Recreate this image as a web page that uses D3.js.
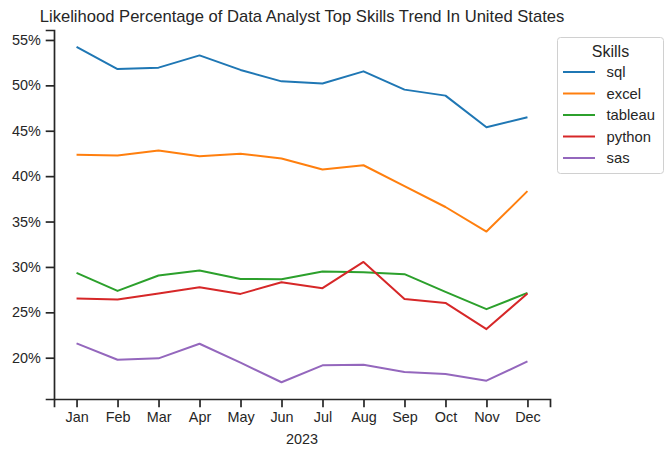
<!DOCTYPE html>
<html lang="en">
<head>
<meta charset="utf-8">
<title>Data Analyst Top Skills Trend</title>
<script src="https://cdn.jsdelivr.net/npm/d3@7"></script>
<style>
body { margin: 0; background: #fff; }
text { font-family: "Liberation Sans", Arial, sans-serif; fill: #262626; }
</style>
</head>
<body>
<script>
// data (percent of postings)
var months = ["Jan", "Feb", "Mar", "Apr", "May", "Jun", "Jul", "Aug", "Sep", "Oct", "Nov", "Dec"];
var skills = ["sql", "excel", "tableau", "python", "sas"];
var sql     = [54.25, 51.8, 51.95, 53.3, 51.7, 50.44, 50.2, 51.54, 49.53, 48.87, 45.38, 46.48];
var excel   = [42.35, 42.28, 42.82, 42.2, 42.46, 41.95, 40.74, 41.2, 38.9, 36.6, 33.9, 38.35];
var tableau = [29.34, 27.36, 29.05, 29.6, 28.68, 28.65, 29.49, 29.42, 29.2, 27.25, 25.35, 27.14];
var python  = [26.53, 26.42, 27.07, 27.77, 27.03, 28.32, 27.66, 30.55, 26.48, 26.04, 23.15, 27.07];
var sas     = [21.58, 19.78, 19.93, 21.54, 19.45, 17.3, 19.16, 19.23, 18.43, 18.21, 17.47, 19.6];
var yTicks = [20, 25, 30, 35, 40, 45, 50, 55];

var series = [sql, excel, tableau, python, sas];
var colors = ["#1f77b4", "#ff7f0e", "#2ca02c", "#d62728", "#9467bd"];

var w = 672, h = 457;
var mLeft = 54, mRight = 550, mTop = 30, mBottom = 399;

var svg = d3.select("body").append("svg")
    .attr("width", w)
    .attr("height", h);

// matplotlib-like 5% margins
var x = d3.scaleLinear().domain([-0.55, 11.55]).range([mLeft, mRight]);
var allVals = d3.merge(series);
var lo = d3.min(allVals), hi = d3.max(allVals), pad = (hi - lo) * 0.05;
var y = d3.scaleLinear().domain([lo - pad, hi + pad]).range([mBottom, mTop]);

// axes
var xAxis = d3.axisBottom(x)
    .tickValues(d3.range(months.length))
    .tickFormat(function(i) { return months[i]; })
    .tickSizeOuter(0)
    .tickSize(8.3)
    .tickPadding(4.9);
var yAxis = d3.axisLeft(y)
    .tickValues(yTicks)
    .tickFormat(function(d) { return d + "%"; })
    .tickSizeOuter(0)
    .tickSize(8.3)
    .tickPadding(4.9);

var gx = svg.append("g").attr("transform", "translate(0," + mBottom + ")").call(xAxis);
var gy = svg.append("g").attr("transform", "translate(" + mLeft + ",0)").call(yAxis);

[gx, gy].forEach(function(g) {
    g.select(".domain").attr("stroke", "#262626").attr("stroke-width", 1.7);
    g.selectAll(".tick line").attr("stroke", "#262626").attr("stroke-width", 1.7);
    g.selectAll(".tick text").attr("fill", "#262626").style("font-size", "14.4px");
});
gx.selectAll(".tick text").attr("dy", "0.71em");

// x label
svg.append("text")
    .attr("x", (mLeft + mRight) / 2)
    .attr("y", 444)
    .attr("text-anchor", "middle")
    .style("font-size", "14.4px")
    .text("2023");

// title
svg.append("text")
    .attr("x", (mLeft + mRight) / 2)
    .attr("y", 22)
    .attr("text-anchor", "middle")
    .style("font-size", "16.6px")
    .text("Likelihood Percentage of Data Analyst Top Skills Trend In United States");

// lines
var line = d3.line()
    .x(function(d, i) { return x(i); })
    .y(function(d) { return y(d); });

svg.selectAll("path.series")
    .data(series)
    .enter()
    .append("path")
    .attr("class", "series")
    .attr("fill", "none")
    .attr("stroke", function(d, i) { return colors[i]; })
    .attr("stroke-width", 2)
    .attr("stroke-linejoin", "round")
    .attr("d", line);

// legend
var lg = svg.append("g").attr("transform", "translate(557.5,37.5)");
lg.append("rect")
    .attr("width", 106)
    .attr("height", 136)
    .attr("rx", 3)
    .attr("fill", "#fff")
    .attr("fill-opacity", 0.8)
    .attr("stroke", "#d0d0d0")
    .attr("stroke-width", 1);
lg.append("text")
    .attr("x", 53)
    .attr("y", 19)
    .attr("text-anchor", "middle")
    .style("font-size", "16px")
    .text("Skills");
var items = lg.selectAll("g.item")
    .data(skills)
    .enter()
    .append("g")
    .attr("class", "item")
    .attr("transform", function(d, i) { return "translate(0," + (34.5 + i * 21.5) + ")"; });
items.append("line")
    .attr("x1", 5.5).attr("x2", 37.5)
    .attr("stroke", function(d, i) { return colors[i]; })
    .attr("stroke-width", 2);
items.append("text")
    .attr("x", 49)
    .attr("dy", "0.35em")
    .style("font-size", "14.8px")
    .text(function(d) { return d; });
</script>
</body>
</html>
